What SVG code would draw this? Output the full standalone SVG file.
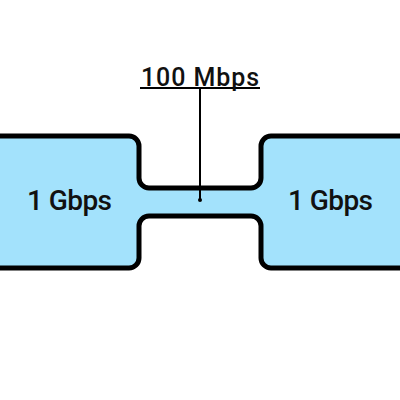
<svg xmlns="http://www.w3.org/2000/svg" width="400" height="400" viewBox="0 0 400 400">
<style>
.lbl{font-family:Roboto,"DejaVu Sans",sans-serif;fill:#111;font-weight:500;}
</style>
<rect width="400" height="400" fill="#fff"/>
<g id="pipe">
<path d="M-10,136 H129 A10,10 0 0 1 139,146 V178 A10,10 0 0 0 149,188 H251 A10,10 0 0 0 261,178 V146 A10,10 0 0 1 271,136 H410 V268 H271 A10,10 0 0 1 261,258 V226 A10,10 0 0 0 251,216 H149 A10,10 0 0 0 139,226 V258 A10,10 0 0 1 129,268 H-10 Z" fill="#a3e2fc" stroke="#000" stroke-width="5" stroke-linejoin="round"/>
</g>
<g id="left">
<text class="lbl" x="27" y="210" font-size="28" textLength="85" lengthAdjust="spacing">1 Gbps</text>
</g>
<g id="right">
<text class="lbl" x="288" y="210" font-size="28" textLength="85" lengthAdjust="spacing">1 Gbps</text>
</g>
<g id="connectors">
<line x1="140" y1="88" x2="260" y2="88" stroke="#000" stroke-width="2"/>
<line x1="200" y1="88" x2="200" y2="200" stroke="#000" stroke-width="2"/>
<circle cx="200" cy="200" r="2" fill="#000"/>
</g>
<g id="label">
<text class="lbl" x="141" y="86" font-size="25" textLength="118" lengthAdjust="spacing">100 Mbps</text>
</g>
</svg>
